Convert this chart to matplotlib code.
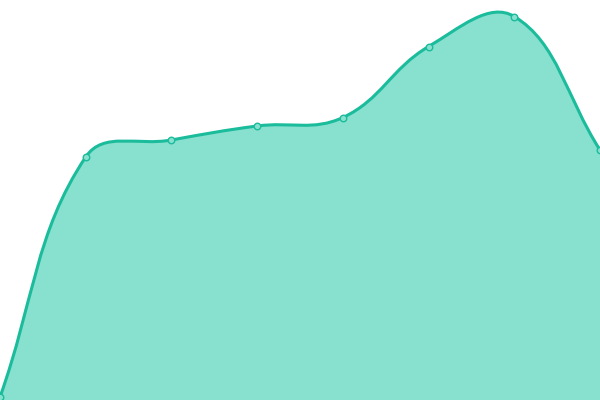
import matplotlib
matplotlib.use("Agg")
import matplotlib.pyplot as plt
import numpy as np
from matplotlib.path import Path
from matplotlib.patches import PathPatch

# values (axis runs 0..400)
x_vals = [0, 85.7, 171.4, 257.1, 342.9, 428.6, 514.3, 600]
y_vals = [3, 243, 260, 274, 282.5, 353.5, 383.5, 250]

line_color = "#1abc9c"
fill_color = "#88e0ce"
tension = 0.4


def spline_controls(pts, t):
    """Chart.js style control points for a smooth line."""
    n = len(pts)
    ctrl = []
    for i in range(n):
        cur = pts[i]
        prev = pts[i - 1] if i > 0 else cur
        nxt = pts[i + 1] if i < n - 1 else cur
        d01 = np.hypot(*(cur - prev))
        d12 = np.hypot(*(nxt - cur))
        tot = d01 + d12
        s01 = d01 / tot if tot else 0
        s12 = d12 / tot if tot else 0
        before = cur - t * s01 * (nxt - prev)
        after = cur + t * s12 * (nxt - prev)
        ctrl.append((before, after))
    return ctrl


fig = plt.figure(figsize=(6, 4), dpi=100)
ax = fig.add_axes([0, 0, 1, 1])
ax.set_xlim(0, 600)
ax.set_ylim(0, 400)
ax.axis("off")

pts = [np.array([x, y], dtype=float) for x, y in zip(x_vals, y_vals)]
ctrl = spline_controls(pts, tension)

verts = [pts[0]]
codes = [Path.MOVETO]
for i in range(1, len(pts)):
    verts += [ctrl[i - 1][1], ctrl[i][0], pts[i]]
    codes += [Path.CURVE4] * 3

fill_verts = verts + [np.array([x_vals[-1], 0.0]), np.array([x_vals[0], 0.0]), pts[0]]
fill_codes = codes + [Path.LINETO, Path.LINETO, Path.CLOSEPOLY]

ax.add_patch(PathPatch(Path(fill_verts, fill_codes), facecolor=fill_color, edgecolor="none", zorder=1))
ax.add_patch(PathPatch(Path(verts, codes), facecolor="none", edgecolor=line_color, linewidth=2.2, zorder=2))

ax.scatter(x_vals, y_vals, s=22, facecolor=fill_color, edgecolor=line_color, linewidth=1.0, zorder=3, clip_on=True)

fig.savefig("out.png", dpi=100)
